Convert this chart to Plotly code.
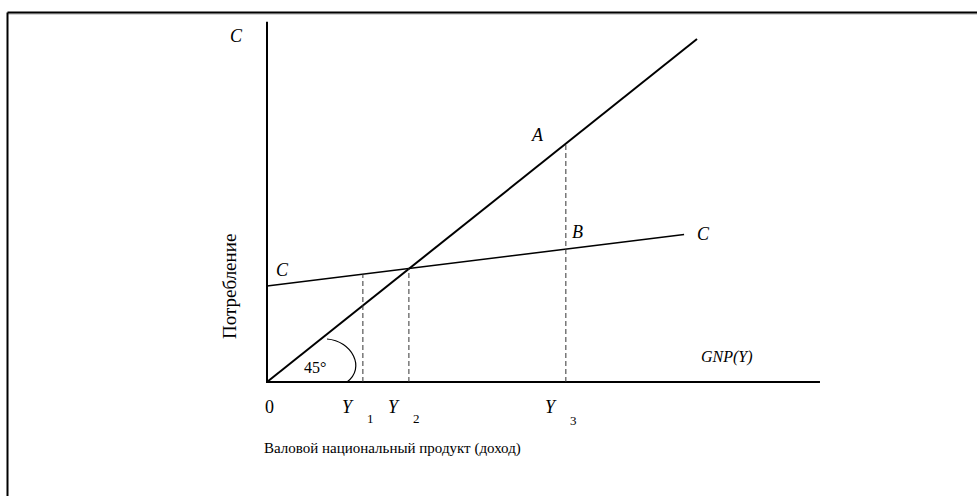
import numpy as np
import plotly.graph_objects as go

# data (abstract units: income Y along x, consumption C along y)
line45_x = [0, 100]
line45_y = [0, 100]
cons_x = [0, 97]
cons_y = [28, 43]
y_labels = ["1", "2", "3"]
y_values = [22.3, 33.0, 69.5]
x_axis_end = 128.6
y_axis_top = 105

# pixel mapping used only for the view/labels
X0, Y0 = 267, 382
SX, SY = 4.3, 3.43
W, H = 977, 496


def px(x, y):
    return (x - X0) / SX, (Y0 - y) / SY


FONT = "Liberation Serif"

fig = go.Figure()

# axes
fig.add_trace(go.Scatter(x=[0, 0, x_axis_end], y=[y_axis_top, 0, 0], mode="lines",
                         line=dict(color="black", width=2), hoverinfo="skip"))
# 45 degree line
fig.add_trace(go.Scatter(x=line45_x, y=line45_y, mode="lines",
                         line=dict(color="black", width=2), hoverinfo="skip"))
# consumption function
fig.add_trace(go.Scatter(x=cons_x, y=cons_y, mode="lines",
                         line=dict(color="black", width=1.6), hoverinfo="skip"))

# dashed verticals: Y1 and Y2 up to C line, Y3 up to 45 line
tops = [np.interp(y_values[0], cons_x, cons_y),
        np.interp(y_values[1], cons_x, cons_y),
        np.interp(y_values[2], line45_x, line45_y)]
for xv, top in zip(y_values, tops):
    fig.add_trace(go.Scatter(x=[xv, xv], y=[0, top], mode="lines",
                             line=dict(color="#333333", width=1, dash="5px,3px"),
                             hoverinfo="skip"))

# 45 degree arc
pts = [px(327, 339), px(352, 341), px(366, 368), px(347, 382)]
path = "M {} {} C {} {}, {} {}, {} {}".format(*[v for p in pts for v in p])
fig.add_shape(type="path", path=path, line=dict(color="black", width=1.2))


def label(x, y, text, size=17, xanchor="center"):
    ax, ay = px(x, y)
    fig.add_annotation(x=ax, y=ay, text=text, showarrow=False, xanchor=xanchor,
                       yanchor="middle", font=dict(family=FONT, size=size, color="black"))


label(236, 36, "<i>C</i>", size=18)
label(282, 270, "<i>C</i>", size=18)
label(537, 135, "<i>A</i>", size=18)
label(577, 232, "<i>B</i>", size=18)
label(703, 234, "<i>C</i>", size=18)
label(727, 357, "<i>GNP(Y)</i>", size=16)
label(315, 367, "45°", size=16)
label(269, 407, "0", size=18)
for xv, sub in zip(y_values, y_labels):
    xp = X0 + xv * SX
    label(xp - 15, 407, "<i>Y</i>", size=18)
    label(xp + 8, 418 if sub != "3" else 420, sub, size=13)
label(262, 448, "Валовой национальный продукт (доход)", size=15, xanchor="left")

ax, ay = px(229, 287)
fig.add_annotation(x=ax, y=ay, text="Потребление", showarrow=False, textangle=-90,
                   font=dict(family=FONT, size=19, color="black"))

# outer frame (top and left edges visible)
fx, fy = 7.5 / W, 1 - 12.5 / H
fig.add_shape(type="line", xref="paper", yref="paper", x0=fx, y0=fy - 1.5 / H, x1=1, y1=fy - 1.5 / H,
              line=dict(color="#aaaaaa", width=1))
fig.add_shape(type="line", xref="paper", yref="paper", x0=fx, y0=fy, x1=1, y1=fy,
              line=dict(color="black", width=2))
fig.add_shape(type="line", xref="paper", yref="paper", x0=fx, y0=fy, x1=fx, y1=0,
              line=dict(color="black", width=2))

x_lo, _ = px(0, 0)
x_hi, _ = px(W, 0)
_, y_hi = px(0, 0)
_, y_lo = px(0, H)
fig.update_xaxes(range=[x_lo, x_hi], visible=False)
fig.update_yaxes(range=[y_lo, y_hi], visible=False)
fig.update_layout(width=W, height=H, margin=dict(l=0, r=0, t=0, b=0),
                  font=dict(family=FONT),
                  plot_bgcolor="white", paper_bgcolor="white", showlegend=False)

fig.write_html("out.html", config={"displayModeBar": False},
               post_script="document.body.style.margin='0';")
